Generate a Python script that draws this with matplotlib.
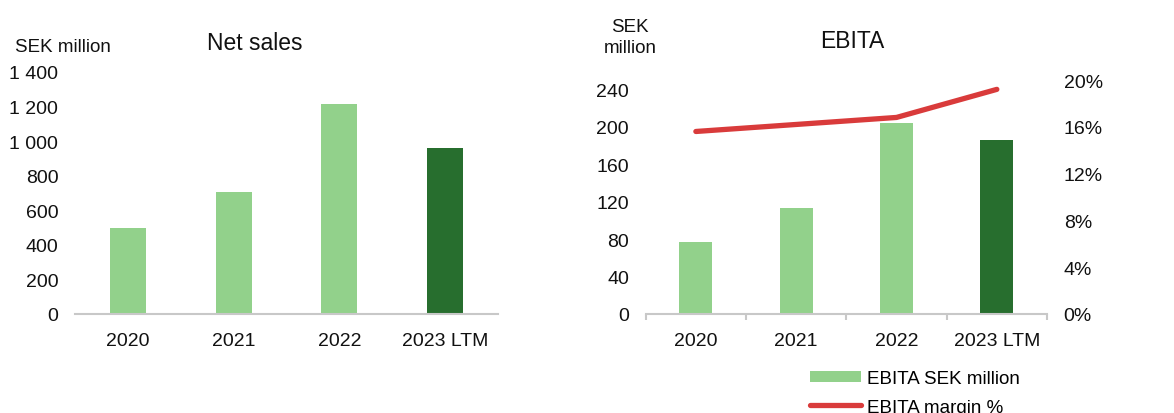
import matplotlib
matplotlib.use("Agg")
import matplotlib.pyplot as plt
from matplotlib.patches import Patch
from matplotlib.lines import Line2D
from matplotlib.ticker import FuncFormatter

plt.rcParams['font.family'] = ['Liberation Sans', 'DejaVu Sans']

categories = ["2020", "2021", "2022", "2023 LTM"]
net_sales = [500, 705, 1215, 962]
ebita = [76.5, 113, 204, 186]
ebita_margin = [0.156, 0.162, 0.168, 0.192]

light_green = "#92D18B"
dark_green = "#276E2E"
red = "#D93B3B"
axis_gray = "#C8C8C8"
bar_colors = [light_green, light_green, light_green, dark_green]

W, H = 1174, 414
fig = plt.figure(figsize=(W / 100, H / 100), dpi=100)

def px_axes(x0, x1, ytop, ybot):
    return fig.add_axes([x0 / W, (H - ybot) / H, (x1 - x0) / W, (ybot - ytop) / H])

def space_thousands(v, pos):
    return f"{int(round(v)):,}".replace(",", " ")

# ---- Left chart: Net sales ----
ax1 = px_axes(75, 498, 73, 315)
x = list(range(len(categories)))
ax1.bar(x, net_sales, width=0.34, color=bar_colors)
ax1.set_xlim(-0.5, 3.5)
ax1.set_ylim(0, 1400)
ax1.set_yticks(range(0, 1401, 200))
ax1.yaxis.set_major_formatter(FuncFormatter(space_thousands))
ax1.set_xticks(x)
ax1.set_xticklabels(categories)
for s in ["top", "right", "left"]:
    ax1.spines[s].set_visible(False)
ax1.spines["bottom"].set_color(axis_gray)
ax1.spines["bottom"].set_linewidth(1.5)
ax1.tick_params(axis="y", length=0, pad=12, labelsize=14, colors="#111111")
ax1.tick_params(axis="x", length=0, pad=13, labelsize=14, colors="#111111")

fig.text(255 / W, 1 - 43 / H, "Net sales", ha="center", va="center", fontsize=16.5, color="#111111")
fig.text(15 / W, 1 - 47 / H, "SEK million", ha="left", va="center", fontsize=13.5, color="#111111")

# ---- Right chart: EBITA ----
ax2 = px_axes(645.7, 1047, 81, 315)
ax2.bar(x, ebita, width=0.33, color=bar_colors, zorder=2)
ax2.set_xlim(-0.5, 3.5)
ax2.set_ylim(0, 250)
ax2.set_yticks(range(0, 241, 40))
ax2.set_xticks(x)
ax2.set_xticklabels(categories)
ax2.set_xticks([-0.5, 0.5, 1.5, 2.5, 3.5], minor=True)
for s in ["top", "right", "left"]:
    ax2.spines[s].set_visible(False)
ax2.spines["bottom"].set_color(axis_gray)
ax2.spines["bottom"].set_linewidth(1.5)
ax2.tick_params(axis="y", length=0, pad=12, labelsize=14, colors="#111111")
ax2.tick_params(axis="x", which="major", length=0, pad=13, labelsize=14, colors="#111111")
ax2.tick_params(axis="x", which="minor", length=4.5, width=1.5, color=axis_gray, direction="out")

ax3 = ax2.twinx()
ax3.plot(x, ebita_margin, color=red, linewidth=3.8, solid_capstyle="round", solid_joinstyle="round", zorder=3)
ax3.set_ylim(0, 0.20)
ax3.set_yticks([0, 0.04, 0.08, 0.12, 0.16, 0.20])
ax3.yaxis.set_major_formatter(FuncFormatter(lambda v, p: f"{v*100:.0f}%"))
for s in ["top", "right", "left", "bottom"]:
    ax3.spines[s].set_visible(False)
ax3.tick_params(axis="y", length=0, pad=12, labelsize=14, colors="#111111")

fig.text(852 / W, 1 - 42 / H, "EBITA", ha="center", va="center", fontsize=16.5, color="#111111")
fig.text(630 / W, 1 - 38 / H, "SEK\nmillion", ha="center", va="center", fontsize=13.5,
         linespacing=1.3, color="#111111")

handles = [Patch(facecolor=light_green, edgecolor="none"),
           Line2D([0], [0], color=red, linewidth=3.8, solid_capstyle="round")]
fig.legend(handles, ["EBITA SEK million", "EBITA margin %"], loc="center left",
           bbox_to_anchor=(810 / W, 1 - 394 / H), frameon=False, fontsize=13.5,
           handlelength=2.7, handleheight=0.55, handletextpad=0.32, labelspacing=0.6,
           borderpad=0, borderaxespad=0)

fig.savefig("out.png", dpi=100)
